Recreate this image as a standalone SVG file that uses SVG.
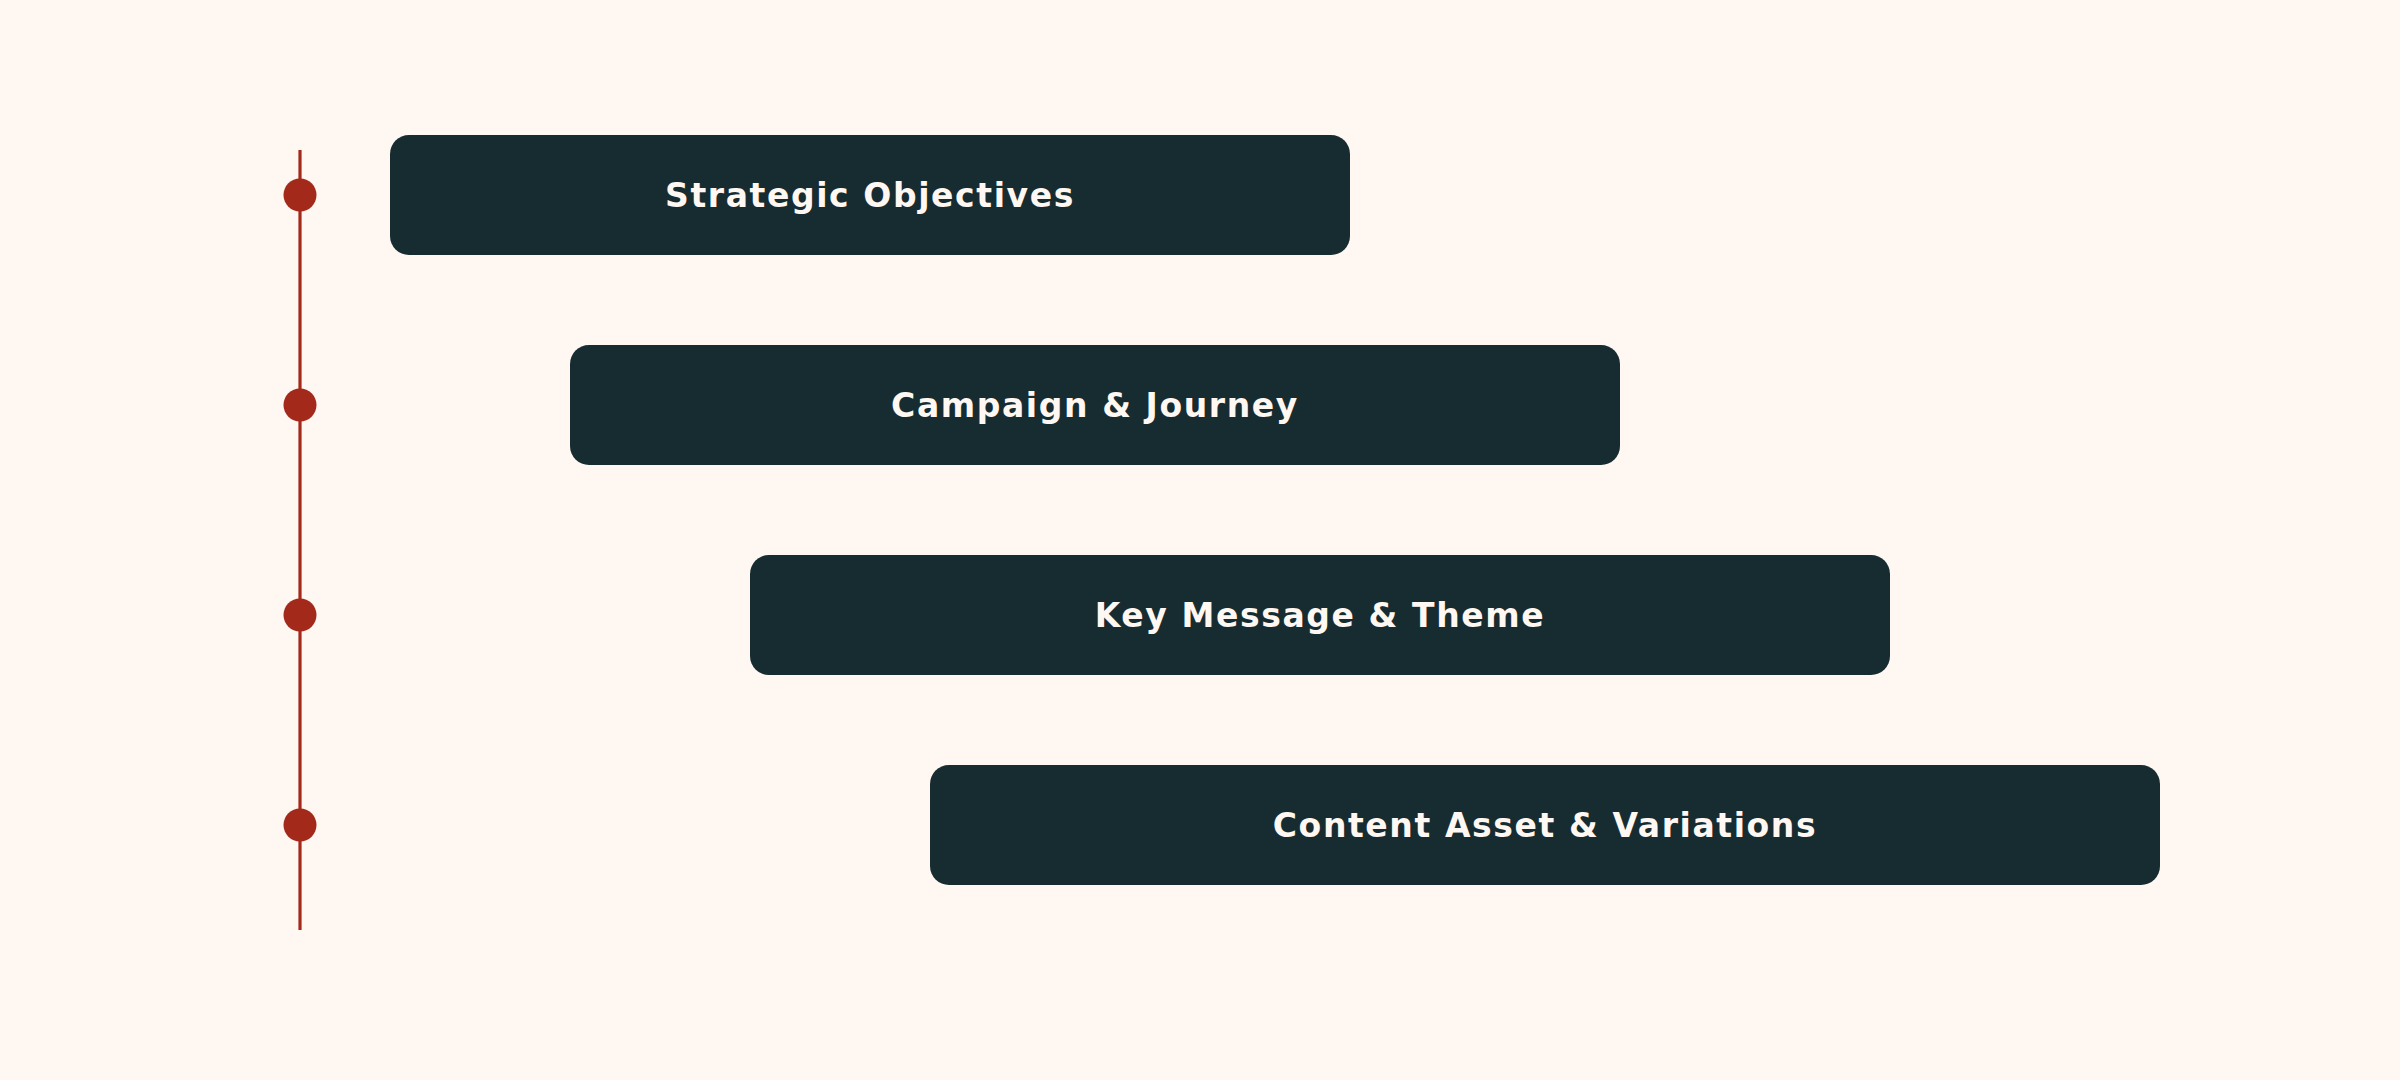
<svg xmlns="http://www.w3.org/2000/svg" width="2400" height="1080" viewBox="0 0 2400 1080">
<style>
.box{fill:#172c31;}
.lbl{font-family:"DejaVu Sans",sans-serif;font-weight:bold;font-size:33px;letter-spacing:1.6px;fill:#fff7f1;text-anchor:middle;}
.dot{fill:#a3291a;}
.rail{stroke:#a3291a;stroke-width:3.2;fill:none;}
</style>
<rect x="0" y="0" width="2400" height="1080" fill="#fff7f1"/>
<g id="connectors">
<line class="rail" x1="300" y1="150" x2="300" y2="930"/>
</g>
<g id="node-1">
<circle class="dot" cx="300" cy="195" r="16.5"/>
<rect class="box" x="390" y="135" width="960" height="120" rx="19"/>
<text class="lbl" x="870" y="207">Strategic Objectives</text>
</g>
<g id="node-2">
<circle class="dot" cx="300" cy="405" r="16.5"/>
<rect class="box" x="570" y="345" width="1050" height="120" rx="19"/>
<text class="lbl" x="1095" y="417">Campaign &amp; Journey</text>
</g>
<g id="node-3">
<circle class="dot" cx="300" cy="615" r="16.5"/>
<rect class="box" x="750" y="555" width="1140" height="120" rx="19"/>
<text class="lbl" x="1320" y="627">Key Message &amp; Theme</text>
</g>
<g id="node-4">
<circle class="dot" cx="300" cy="825" r="16.5"/>
<rect class="box" x="930" y="765" width="1230" height="120" rx="19"/>
<text class="lbl" x="1545" y="837">Content Asset &amp; Variations</text>
</g>
</svg>
